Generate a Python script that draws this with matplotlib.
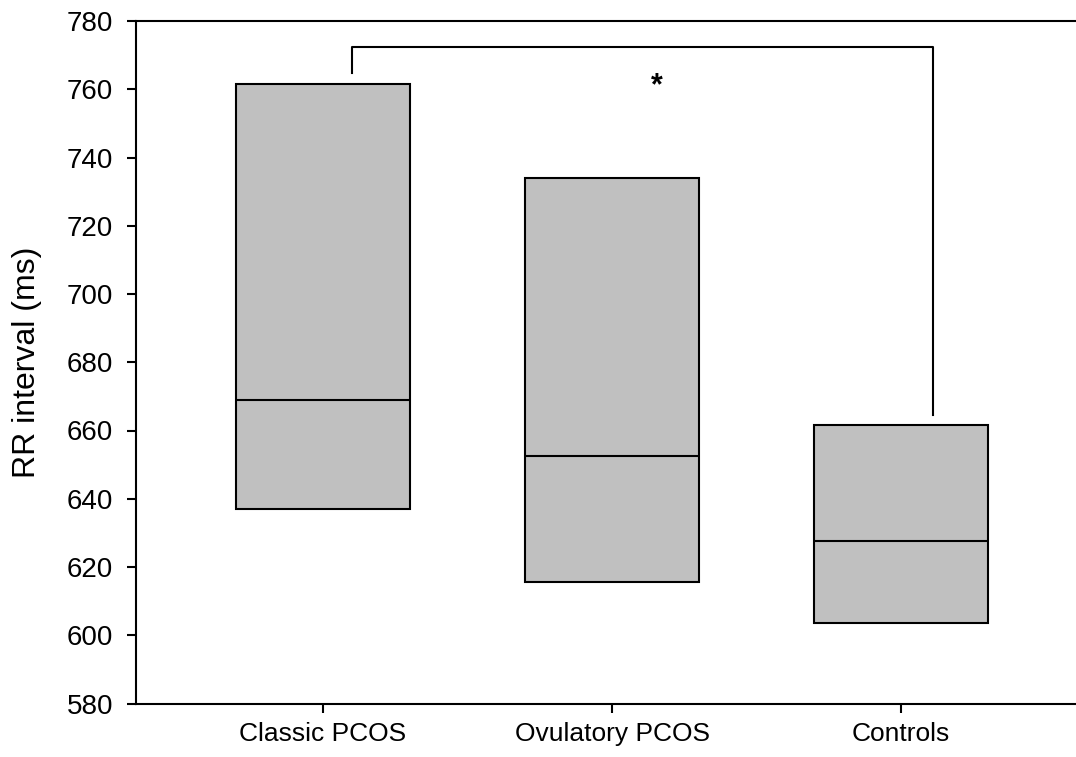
import numpy as np
import matplotlib
matplotlib.use("Agg")
import matplotlib.pyplot as plt

plt.rcParams['font.family'] = ['Liberation Sans', 'DejaVu Sans']

# data
groups = ['Classic PCOS', 'Ovulatory PCOS', 'Controls']
q1 = [637.0, 615.5, 603.5]
median = [668.8, 652.5, 627.5]
q3 = [761.5, 734.0, 661.6]

# significance bracket (Classic vs Controls)
br_x = [1.1, 1.1, 3.11, 3.11]
br_y = [764.8, 772.4, 772.4, 664.6]
star_x, star_y = 2.155, 761.0

pos = np.arange(1, len(groups) + 1)
width = 0.6

fig = plt.figure(figsize=(10.76, 7.57), dpi=100)
ax = fig.add_axes([136 / 1076, 1 - 703.5 / 757, 952 / 1076, 682.5 / 757])

heights = np.array(q3) - np.array(q1)
ax.bar(pos, heights, width=width, bottom=q1, color='#c0c0c0',
       edgecolor='black', linewidth=1.5, zorder=2)
ax.hlines(median, pos - width / 2, pos + width / 2, color='black',
          linewidth=1.5, zorder=3)

ax.plot(br_x, br_y, color='black', linewidth=1.5)
ax.text(star_x, star_y, '*', ha='center', va='center', fontsize=22,
        fontweight='bold')

ax.set_xlim(0.353, 3.647)
ax.set_ylim(580, 780)
ax.set_yticks(np.arange(580, 781, 20))
ax.set_xticks(pos)
ax.set_xticklabels(groups)
ax.tick_params(axis='both', direction='out', length=6.5, width=1.5)
ax.tick_params(axis='y', pad=10, labelsize=20)
ax.tick_params(axis='x', pad=7, labelsize=19)
ax.set_ylabel('RR interval (ms)', fontsize=23, labelpad=18)

for s in ['left', 'bottom', 'top']:
    ax.spines[s].set_linewidth(1.5)
ax.spines['right'].set_visible(False)

fig.savefig('out.png', dpi=100)
